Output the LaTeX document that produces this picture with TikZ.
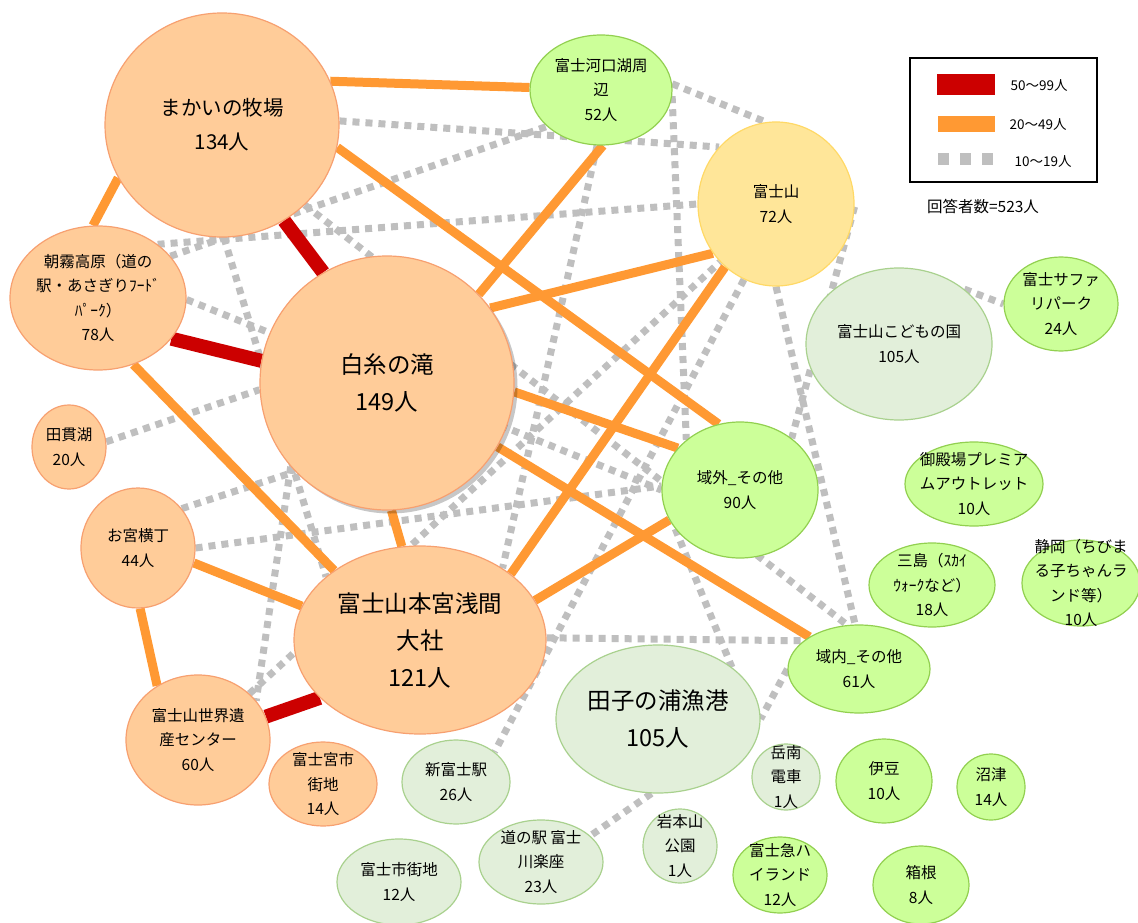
\documentclass[tikz,border=0pt]{standalone}
\usepackage{fontspec}
\setmainfont{Noto Sans CJK JP}
\usetikzlibrary{shapes.geometric, shadows, backgrounds}
\usepackage{xcolor}

\definecolor{warmfill}{HTML}{FFCC99}
\definecolor{warmline}{HTML}{F7A070}
\definecolor{limefill}{HTML}{CCFF99}
\definecolor{limeline}{HTML}{92D050}
\definecolor{palefill}{HTML}{E2EFDA}
\definecolor{paleline}{HTML}{A9D18E}
\definecolor{sunfill}{HTML}{FFE699}
\definecolor{sunline}{HTML}{FFD966}
\definecolor{linkred}{HTML}{CC0000}
\definecolor{linkorange}{HTML}{FF9933}
\definecolor{linkgrey}{HTML}{BFBFBF}

\newcommand{\spotfont}{\fontsize{15.5}{24.5}\selectfont}
\newcommand{\bigspotfont}{\fontsize{23.5}{37}\selectfont}
\newcommand{\keyfont}{\fontsize{13.5}{16}\selectfont}

\begin{document}
\begin{tikzpicture}[x=1pt, y=-1pt, line width=1.2pt,
    spot/.style={ellipse, draw, inner sep=0pt},
    warm/.style={spot, fill=warmfill, draw=warmline},
    lime/.style={spot, fill=limefill, draw=limeline},
    pale/.style={spot, fill=palefill, draw=paleline},
    sun/.style={spot, fill=sunfill, draw=sunline},
    says/.style={label={[align=center, font=\spotfont]center:#1}},
    bigsays/.style={label={[align=center, font=\bigspotfont]center:#1}},
    redlink/.style={draw=linkred, line width=14pt},
    orangelink/.style={draw=linkorange, line width=9pt},
    greylink/.style={draw=linkgrey, line width=7pt, dash pattern=on 7pt off 6pt}]
    \useasboundingbox (0,0) rectangle (1138,923);

    % spots
    \node[warm, minimum width=234pt, minimum height=224pt,
        label={[align=center, font=\fontsize{20.5}{34}\selectfont]center:まかいの牧場\\134人}] (makai) at (222,125) {};
    \node[lime, minimum width=142pt, minimum height=110pt, says={富士河口湖周\\辺\\52人}] (kawa) at (601,90) {};
    \node[sun, minimum width=156pt, minimum height=164pt, says={富士山\\72人}] (fuji) at (776,204) {};
    \node[warm, minimum width=176pt, minimum height=144pt, says={朝霧高原（道の\\駅・あさぎりﾌｰﾄﾞ\\ﾊﾟｰｸ）\\78人}] (asagiri) at (98,298) {};
    \node[warm, minimum width=254pt, minimum height=254pt, bigsays={白糸の滝\\149人},
        drop shadow={shadow xshift=3.5pt, shadow yshift=-3.5pt, opacity=0.22, fill=black}] (shiraito) at (387,383) {};
    \node[pale, minimum width=186pt, minimum height=152pt, says={富士山こどもの国\\105人}] (kodomo) at (899,344) {};
    \node[lime, minimum width=114pt, minimum height=94pt, says={富士サファ\\リパーク\\24人}] (safari) at (1061,304) {};
    \node[warm, minimum width=74pt, minimum height=84pt, says={田貫湖\\20人}] (tanuki) at (69,447) {};
    \node[lime, minimum width=156pt, minimum height=136pt, says={域外\_その他\\90人}] (ikigai) at (740,490) {};
    \node[lime, minimum width=138pt, minimum height=84pt, says={御殿場プレミア\\ムアウトレット\\10人}] (gotemba) at (974,484) {};
    \node[warm, minimum width=114pt, minimum height=120pt, says={お宮横丁\\44人}] (omiya) at (138,548) {};
    \node[warm, minimum width=252pt, minimum height=188pt, bigsays={富士山本宮浅間\\大社\\121人}] (hongu) at (420,640) {};
    \node[lime, minimum width=126pt, minimum height=84pt, says={三島（ｽｶｲ\\ｳｫｰｸなど）\\18人}] (mishima) at (932,585) {};
    \node[lime, minimum width=118pt, minimum height=86pt, says={静岡（ちびま\\る子ちゃんラ\\ンド等）\\10人}] (shizuoka) at (1081,583) {};
    \node[lime, minimum width=142pt, minimum height=88pt, says={域内\_その他\\61人}] (ikinai) at (859,669) {};
    \node[pale, minimum width=204pt, minimum height=148pt, bigsays={田子の浦漁港\\105人}] (tago) at (658,719) {};
    \node[warm, minimum width=144pt, minimum height=130pt, says={富士山世界遺\\産センター\\60人}] (isekai) at (198,740) {};
    \node[warm, minimum width=108pt, minimum height=84pt, says={富士宮市\\街地\\14人}] (miyashi) at (323,784) {};
    \node[pale, minimum width=108pt, minimum height=84pt, says={新富士駅\\26人}] (shinfuji) at (456,782) {};
    \node[pale, minimum width=68pt, minimum height=66pt, says={岳南\\電車\\1人}] (gakunan) at (786,777) {};
    \node[lime, minimum width=96pt, minimum height=84pt, says={伊豆\\10人}] (izu) at (884,781) {};
    \node[lime, minimum width=68pt, minimum height=66pt, says={沼津\\14人}] (numazu) at (991,787) {};
    \node[pale, minimum width=124pt, minimum height=86pt, says={富士市街地\\12人}] (fujishi) at (399,882) {};
    \node[pale, minimum width=124pt, minimum height=84pt, says={道の駅 富士\\川楽座\\23人}] (michi) at (541,862) {};
    \node[pale, minimum width=74pt, minimum height=74pt, says={岩本山\\公園\\1人}] (iwamoto) at (680,846) {};
    \node[lime, minimum width=94pt, minimum height=76pt, says={富士急ハ\\イランド\\12人}] (highland) at (780,875) {};
    \node[lime, minimum width=96pt, minimum height=78pt, says={箱根\\8人}] (hakone) at (921,885) {};

    % links, under the spots
    \begin{pgfonlayer}{background}
    \fill[white] (0,0) rectangle (1138,923);
    \draw[greylink]
        (makai.2) edge (fuji.135)
        (kawa.5) edge (fuji.97)
        (asagiri.30) edge (kawa.214)
        (asagiri.42) edge (fuji.180)
        (makai.271) edge (hongu.146)
        (makai.316) edge (ikinai.105)
        (asagiri.359) edge (ikigai.180)
        (tanuki.8) edge (shiraito.183)
        (omiya.42) edge (shiraito.224)
        (isekai.42) edge (fuji.226)
        (kawa.266) edge (hongu.41)
        (fuji.270) edge (ikinai.95)
        (fuji.247) edge (shinfuji.38)
        (omiya.0) edge (ikigai.177)
        (shiraito.221) edge (isekai.34)
        (hongu.1) edge (ikinai.153)
        (ikigai.211) edge (tago.35)
        (ikinai.180) edge (tago.0)
        (tago.265) edge (michi.28)
        (fuji.358) edge (ikigai.45)
        (kodomo.40) edge (safari.180)
        (kawa.355) edge (ikigai.137);
    \draw[orangelink]
        (makai.22) edge (kawa.178)
        (makai.207) edge (asagiri.94)
        (makai.349) edge (ikigai.108)
        (shiraito.44) edge (kawa.272)
        (shiraito.36) edge (fuji.218)
        (shiraito.356) edge (ikigai.146)
        (shiraito.330) edge (ikinai.147)
        (shiraito.272) edge (hongu.101)
        (asagiri.298) edge (hongu.141)
        (omiya.345) edge (hongu.164)
        (omiya.272) edge (isekai.127)
        (hongu.36) edge (fuji.231)
        (hongu.19) edge (ikigai.203);
    \draw[redlink]
        (makai.303) edge (shiraito.120)
        (asagiri.331) edge (shiraito.170)
        (isekai.19) edge (hongu.210);
    \end{pgfonlayer}

    % legend
    \draw[line width=1.3pt] (910,58) rectangle (1097,182);
    \fill[linkred] (937,74) rectangle (995,95);
    \fill[linkorange] (938,116) rectangle (995,132);
    \draw[linkgrey, line width=12pt, dash pattern=on 11pt off 11pt] (938,159) -- (995,159);
    \node[anchor=west, font=\keyfont] (key50) at (1007,86) {50～99人};
    \node[anchor=west, font=\keyfont] (key20) at (1006,125) {20～49人};
    \node[anchor=west, font=\keyfont] (key10) at (1011,162) {10～19人};
    \node[font=\fontsize{15.5}{18}\selectfont] (total) at (983,207) {回答者数=523人};
\end{tikzpicture}
\end{document}
